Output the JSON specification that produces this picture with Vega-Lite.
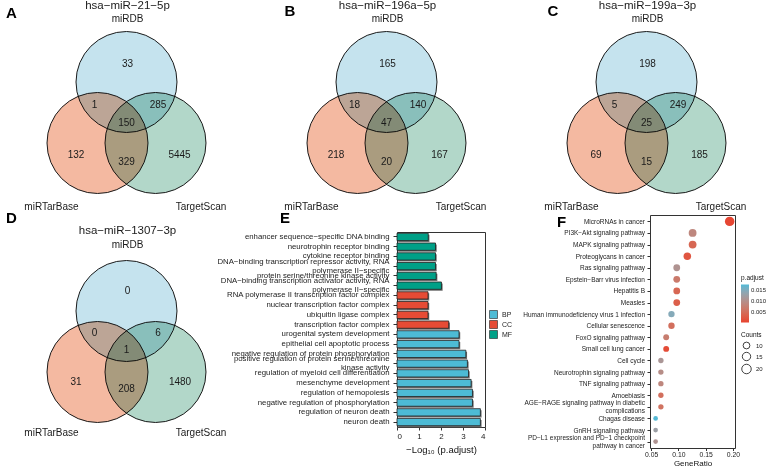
{
  "$schema": "https://vega.github.io/schema/vega-lite/v6.json",
  "padding": 0,
  "background": "white",
  "config": {
    "view": {"stroke": null},
    "font": "Liberation Sans",
    "text": {"font": "Liberation Sans"},
    "title": {"font": "Liberation Sans"},
    "axis": {"labelFont": "Liberation Sans", "titleFont": "Liberation Sans"},
    "legend": {"labelFont": "Liberation Sans", "titleFont": "Liberation Sans"}
  },
  "datasets": {
    "circles": [
      {"set": "miRDB", "x": 126.5, "y": 82},
      {"set": "miRTarBase", "x": 97.5, "y": 143},
      {"set": "TargetScan", "x": 155.5, "y": 143}
    ],
    "vlabels": [
      {"panel": "A", "kind": "label", "text": "33", "x": 127.5, "y": 63.5},
      {"panel": "A", "kind": "label", "text": "1", "x": 94.5, "y": 105},
      {"panel": "A", "kind": "label", "text": "285", "x": 158, "y": 105},
      {"panel": "A", "kind": "label", "text": "150", "x": 126.5, "y": 122.5},
      {"panel": "A", "kind": "label", "text": "132", "x": 76, "y": 155},
      {"panel": "A", "kind": "label", "text": "329", "x": 126.5, "y": 161.5},
      {"panel": "A", "kind": "label", "text": "5445", "x": 179.5, "y": 155},
      {"panel": "A", "kind": "label", "text": "miRDB", "x": 127.5, "y": 18.5},
      {"panel": "A", "kind": "label", "text": "miRTarBase", "x": 51.5, "y": 206.5},
      {"panel": "A", "kind": "label", "text": "TargetScan", "x": 201, "y": 206.5},
      {"panel": "A", "kind": "title", "text": "hsa−miR−21−5p", "x": 127.5, "y": 6},
      {"panel": "A", "kind": "letter", "text": "A", "x": 11.5, "y": 13},
      {"panel": "B", "kind": "label", "text": "165", "x": 127.5, "y": 63.5},
      {"panel": "B", "kind": "label", "text": "18", "x": 94.5, "y": 105},
      {"panel": "B", "kind": "label", "text": "140", "x": 158, "y": 105},
      {"panel": "B", "kind": "label", "text": "47", "x": 126.5, "y": 122.5},
      {"panel": "B", "kind": "label", "text": "218", "x": 76, "y": 155},
      {"panel": "B", "kind": "label", "text": "20", "x": 126.5, "y": 161.5},
      {"panel": "B", "kind": "label", "text": "167", "x": 179.5, "y": 155},
      {"panel": "B", "kind": "label", "text": "miRDB", "x": 127.5, "y": 18.5},
      {"panel": "B", "kind": "label", "text": "miRTarBase", "x": 51.5, "y": 206.5},
      {"panel": "B", "kind": "label", "text": "TargetScan", "x": 201, "y": 206.5},
      {"panel": "B", "kind": "title", "text": "hsa−miR−196a−5p", "x": 127.5, "y": 6},
      {"panel": "B", "kind": "letter", "text": "B", "x": 30, "y": 11},
      {"panel": "C", "kind": "label", "text": "198", "x": 127.5, "y": 63.5},
      {"panel": "C", "kind": "label", "text": "5", "x": 94.5, "y": 105},
      {"panel": "C", "kind": "label", "text": "249", "x": 158, "y": 105},
      {"panel": "C", "kind": "label", "text": "25", "x": 126.5, "y": 122.5},
      {"panel": "C", "kind": "label", "text": "69", "x": 76, "y": 155},
      {"panel": "C", "kind": "label", "text": "15", "x": 126.5, "y": 161.5},
      {"panel": "C", "kind": "label", "text": "185", "x": 179.5, "y": 155},
      {"panel": "C", "kind": "label", "text": "miRDB", "x": 127.5, "y": 18.5},
      {"panel": "C", "kind": "label", "text": "miRTarBase", "x": 51.5, "y": 206.5},
      {"panel": "C", "kind": "label", "text": "TargetScan", "x": 201, "y": 206.5},
      {"panel": "C", "kind": "title", "text": "hsa−miR−199a−3p", "x": 127.5, "y": 6},
      {"panel": "C", "kind": "letter", "text": "C", "x": 33, "y": 11},
      {"panel": "D", "kind": "label", "text": "0", "x": 127.5, "y": 62},
      {"panel": "D", "kind": "label", "text": "0", "x": 94.5, "y": 103.5},
      {"panel": "D", "kind": "label", "text": "6", "x": 158, "y": 103.5},
      {"panel": "D", "kind": "label", "text": "1", "x": 126.5, "y": 120.5},
      {"panel": "D", "kind": "label", "text": "31", "x": 76, "y": 153},
      {"panel": "D", "kind": "label", "text": "208", "x": 126.5, "y": 159.5},
      {"panel": "D", "kind": "label", "text": "1480", "x": 180, "y": 153},
      {"panel": "D", "kind": "label", "text": "miRDB", "x": 127.5, "y": 16},
      {"panel": "D", "kind": "label", "text": "miRTarBase", "x": 51.5, "y": 204},
      {"panel": "D", "kind": "label", "text": "TargetScan", "x": 201, "y": 204},
      {"panel": "D", "kind": "title", "text": "hsa−miR−1307−3p", "x": 127.5, "y": 2},
      {"panel": "D", "kind": "letter", "text": "D", "x": 11.5, "y": -11}
    ],
    "go": [
      {"term": "enhancer sequence−specific DNA binding", "ont": "MF", "value": 1.42},
      {"term": "neurotrophin receptor binding", "ont": "MF", "value": 1.75},
      {"term": "cytokine receptor binding", "ont": "MF", "value": 1.75},
      {"term": "DNA−binding transcription repressor activity, RNA\npolymerase II−specific", "ont": "MF", "value": 1.75},
      {"term": "protein serine/threonine kinase activity", "ont": "MF", "value": 1.78},
      {"term": "DNA−binding transcription activator activity, RNA\npolymerase II−specific", "ont": "MF", "value": 2.02},
      {"term": "RNA polymerase II transcription factor complex", "ont": "CC", "value": 1.41},
      {"term": "nuclear transcription factor complex", "ont": "CC", "value": 1.41},
      {"term": "ubiquitin ligase complex", "ont": "CC", "value": 1.41},
      {"term": "transcription factor complex", "ont": "CC", "value": 2.35},
      {"term": "urogenital system development", "ont": "BP", "value": 2.82},
      {"term": "epithelial cell apoptotic process", "ont": "BP", "value": 2.82},
      {"term": "negative regulation of protein phosphorylation", "ont": "BP", "value": 3.13},
      {"term": "positive regulation of protein serine/threonine\nkinase activity", "ont": "BP", "value": 3.2},
      {"term": "regulation of myeloid cell differentiation", "ont": "BP", "value": 3.25},
      {"term": "mesenchyme development", "ont": "BP", "value": 3.37},
      {"term": "regulation of hemopoiesis", "ont": "BP", "value": 3.43},
      {"term": "negative regulation of phosphorylation", "ont": "BP", "value": 3.43},
      {"term": "regulation of neuron death", "ont": "BP", "value": 3.79},
      {"term": "neuron death", "ont": "BP", "value": 3.79}
    ],
    "kegg": [
      {"Description": "MicroRNAs in cancer", "GeneRatio": 0.1942, "Count": 20, "padj": 0.0005},
      {"Description": "PI3K−Akt signaling pathway", "GeneRatio": 0.1262, "Count": 13, "padj": 0.0085},
      {"Description": "MAPK signaling pathway", "GeneRatio": 0.1262, "Count": 13, "padj": 0.004},
      {"Description": "Proteoglycans in cancer", "GeneRatio": 0.1165, "Count": 12, "padj": 0.002},
      {"Description": "Ras signaling pathway", "GeneRatio": 0.0971, "Count": 10, "padj": 0.0105},
      {"Description": "Epstein−Barr virus infection", "GeneRatio": 0.0971, "Count": 10, "padj": 0.0065},
      {"Description": "Hepatitis B", "GeneRatio": 0.0971, "Count": 10, "padj": 0.004},
      {"Description": "Measles", "GeneRatio": 0.0971, "Count": 10, "padj": 0.003},
      {"Description": "Human immunodeficiency virus 1 infection", "GeneRatio": 0.0874, "Count": 9, "padj": 0.0145},
      {"Description": "Cellular senescence", "GeneRatio": 0.0874, "Count": 9, "padj": 0.005},
      {"Description": "FoxO signaling pathway", "GeneRatio": 0.0777, "Count": 8, "padj": 0.007},
      {"Description": "Small cell lung cancer", "GeneRatio": 0.0777, "Count": 8, "padj": 0.001},
      {"Description": "Cell cycle", "GeneRatio": 0.068, "Count": 7, "padj": 0.011},
      {"Description": "Neurotrophin signaling pathway", "GeneRatio": 0.068, "Count": 7, "padj": 0.0095},
      {"Description": "TNF signaling pathway", "GeneRatio": 0.068, "Count": 7, "padj": 0.0085},
      {"Description": "Amoebiasis", "GeneRatio": 0.068, "Count": 7, "padj": 0.005},
      {"Description": "AGE−RAGE signaling pathway in diabetic\ncomplications", "GeneRatio": 0.068, "Count": 7, "padj": 0.0055},
      {"Description": "Chagas disease", "GeneRatio": 0.0583, "Count": 6, "padj": 0.0172},
      {"Description": "GnRH signaling pathway", "GeneRatio": 0.0583, "Count": 6, "padj": 0.0125},
      {"Description": "PD−L1 expression and PD−1 checkpoint\npathway in cancer", "GeneRatio": 0.0583, "Count": 6, "padj": 0.0105}
    ]
  },
  "columns": 6,
  "align": "each",
  "bounds": "flush",
  "spacing": 0,
  "resolve": {
    "scale": {"x": "independent", "y": "independent", "color": "independent", "size": "independent"},
    "legend": {"color": "independent", "size": "independent"}
  },
  "concat": [
    {
      "width": 260, "height": 215,
      "layer": [
        {"data": {"name": "circles"},
         "mark": {"type": "point", "shape": "circle", "filled": true, "size": 10200, "opacity": 1, "stroke": "#1a1a1a", "strokeWidth": 1, "blend": "multiply"},
         "encoding": {
           "x": {"field": "x", "type": "quantitative", "scale": {"domain": [0, 260], "nice": false, "zero": false}, "axis": null},
           "y": {"field": "y", "type": "quantitative", "scale": {"domain": [215, 0], "nice": false, "zero": false}, "axis": null},
           "color": {"field": "set", "type": "nominal", "scale": {"domain": ["miRDB", "miRTarBase", "TargetScan"], "range": ["#C5E3EE", "#F4B9A1", "#B2D7C9"]}, "legend": null}
         }},
        {"data": {"name": "vlabels"}, "transform": [{"filter": "datum.panel == 'A' && datum.kind == 'label'"}],
         "mark": {"type": "text", "fontSize": 10, "color": "#1a1a1a"},
         "encoding": {
           "x": {"field": "x", "type": "quantitative", "scale": {"domain": [0, 260], "nice": false, "zero": false}, "axis": null},
           "y": {"field": "y", "type": "quantitative", "scale": {"domain": [215, 0], "nice": false, "zero": false}, "axis": null},
           "text": {"field": "text", "type": "nominal"}
         }},
        {"data": {"name": "vlabels"}, "transform": [{"filter": "datum.panel == 'A' && datum.kind == 'title'"}],
         "mark": {"type": "text", "fontSize": 11.5, "color": "#1a1a1a"},
         "encoding": {
           "x": {"field": "x", "type": "quantitative", "scale": {"domain": [0, 260], "nice": false, "zero": false}, "axis": null},
           "y": {"field": "y", "type": "quantitative", "scale": {"domain": [215, 0], "nice": false, "zero": false}, "axis": null},
           "text": {"field": "text", "type": "nominal"}
         }},
        {"data": {"name": "vlabels"}, "transform": [{"filter": "datum.panel == 'A' && datum.kind == 'letter'"}],
         "mark": {"type": "text", "fontSize": 15, "fontWeight": "bold", "color": "#000"},
         "encoding": {
           "x": {"field": "x", "type": "quantitative", "scale": {"domain": [0, 260], "nice": false, "zero": false}, "axis": null},
           "y": {"field": "y", "type": "quantitative", "scale": {"domain": [215, 0], "nice": false, "zero": false}, "axis": null},
           "text": {"field": "text", "type": "nominal"}
         }}
      ]
    },
    {
      "width": 137, "height": 215,
      "layer": [
        {"data": {"name": "circles"},
         "mark": {"type": "point", "shape": "circle", "filled": true, "size": 10200, "opacity": 1, "stroke": "#1a1a1a", "strokeWidth": 1, "blend": "multiply"},
         "encoding": {
           "x": {"field": "x", "type": "quantitative", "scale": {"domain": [0, 137], "nice": false, "zero": false}, "axis": null},
           "y": {"field": "y", "type": "quantitative", "scale": {"domain": [215, 0], "nice": false, "zero": false}, "axis": null},
           "color": {"field": "set", "type": "nominal", "scale": {"domain": ["miRDB", "miRTarBase", "TargetScan"], "range": ["#C5E3EE", "#F4B9A1", "#B2D7C9"]}, "legend": null}
         }},
        {"data": {"name": "vlabels"}, "transform": [{"filter": "datum.panel == 'B' && datum.kind == 'label'"}],
         "mark": {"type": "text", "fontSize": 10, "color": "#1a1a1a"},
         "encoding": {
           "x": {"field": "x", "type": "quantitative", "scale": {"domain": [0, 137], "nice": false, "zero": false}, "axis": null},
           "y": {"field": "y", "type": "quantitative", "scale": {"domain": [215, 0], "nice": false, "zero": false}, "axis": null},
           "text": {"field": "text", "type": "nominal"}
         }},
        {"data": {"name": "vlabels"}, "transform": [{"filter": "datum.panel == 'B' && datum.kind == 'title'"}],
         "mark": {"type": "text", "fontSize": 11.5, "color": "#1a1a1a"},
         "encoding": {
           "x": {"field": "x", "type": "quantitative", "scale": {"domain": [0, 137], "nice": false, "zero": false}, "axis": null},
           "y": {"field": "y", "type": "quantitative", "scale": {"domain": [215, 0], "nice": false, "zero": false}, "axis": null},
           "text": {"field": "text", "type": "nominal"}
         }},
        {"data": {"name": "vlabels"}, "transform": [{"filter": "datum.panel == 'B' && datum.kind == 'letter'"}],
         "mark": {"type": "text", "fontSize": 15, "fontWeight": "bold", "color": "#000"},
         "encoding": {
           "x": {"field": "x", "type": "quantitative", "scale": {"domain": [0, 137], "nice": false, "zero": false}, "axis": null},
           "y": {"field": "y", "type": "quantitative", "scale": {"domain": [215, 0], "nice": false, "zero": false}, "axis": null},
           "text": {"field": "text", "type": "nominal"}
         }}
      ]
    },
    {"width": 88, "height": 1, "data": {"values": []}, "mark": "point"},
    {"width": 35, "height": 1, "data": {"values": []}, "mark": "point"},
    {
      "width": 130, "height": 215,
      "layer": [
        {"data": {"name": "circles"},
         "mark": {"type": "point", "shape": "circle", "filled": true, "size": 10200, "opacity": 1, "stroke": "#1a1a1a", "strokeWidth": 1, "blend": "multiply"},
         "encoding": {
           "x": {"field": "x", "type": "quantitative", "scale": {"domain": [0, 130], "nice": false, "zero": false}, "axis": null},
           "y": {"field": "y", "type": "quantitative", "scale": {"domain": [215, 0], "nice": false, "zero": false}, "axis": null},
           "color": {"field": "set", "type": "nominal", "scale": {"domain": ["miRDB", "miRTarBase", "TargetScan"], "range": ["#C5E3EE", "#F4B9A1", "#B2D7C9"]}, "legend": null}
         }},
        {"data": {"name": "vlabels"}, "transform": [{"filter": "datum.panel == 'C' && datum.kind == 'label'"}],
         "mark": {"type": "text", "fontSize": 10, "color": "#1a1a1a"},
         "encoding": {
           "x": {"field": "x", "type": "quantitative", "scale": {"domain": [0, 130], "nice": false, "zero": false}, "axis": null},
           "y": {"field": "y", "type": "quantitative", "scale": {"domain": [215, 0], "nice": false, "zero": false}, "axis": null},
           "text": {"field": "text", "type": "nominal"}
         }},
        {"data": {"name": "vlabels"}, "transform": [{"filter": "datum.panel == 'C' && datum.kind == 'title'"}],
         "mark": {"type": "text", "fontSize": 11.5, "color": "#1a1a1a"},
         "encoding": {
           "x": {"field": "x", "type": "quantitative", "scale": {"domain": [0, 130], "nice": false, "zero": false}, "axis": null},
           "y": {"field": "y", "type": "quantitative", "scale": {"domain": [215, 0], "nice": false, "zero": false}, "axis": null},
           "text": {"field": "text", "type": "nominal"}
         }},
        {"data": {"name": "vlabels"}, "transform": [{"filter": "datum.panel == 'C' && datum.kind == 'letter'"}],
         "mark": {"type": "text", "fontSize": 15, "fontWeight": "bold", "color": "#000"},
         "encoding": {
           "x": {"field": "x", "type": "quantitative", "scale": {"domain": [0, 130], "nice": false, "zero": false}, "axis": null},
           "y": {"field": "y", "type": "quantitative", "scale": {"domain": [215, 0], "nice": false, "zero": false}, "axis": null},
           "text": {"field": "text", "type": "nominal"}
         }}
      ]
    },
    {"width": 85, "height": 1, "data": {"values": []}, "mark": "point"},
    {
      "width": 260, "height": 233,
      "layer": [
        {"data": {"name": "circles"},
         "mark": {"type": "point", "shape": "circle", "filled": true, "size": 10200, "opacity": 1, "stroke": "#1a1a1a", "strokeWidth": 1, "blend": "multiply"},
         "encoding": {
           "x": {"field": "x", "type": "quantitative", "scale": {"domain": [0, 260], "nice": false, "zero": false}, "axis": null},
           "y": {"field": "y", "type": "quantitative", "scale": {"domain": [219, -14], "nice": false, "zero": false}, "axis": null},
           "color": {"field": "set", "type": "nominal", "scale": {"domain": ["miRDB", "miRTarBase", "TargetScan"], "range": ["#C5E3EE", "#F4B9A1", "#B2D7C9"]}, "legend": null}
         }},
        {"data": {"name": "vlabels"}, "transform": [{"filter": "datum.panel == 'D' && datum.kind == 'label'"}],
         "mark": {"type": "text", "fontSize": 10, "color": "#1a1a1a"},
         "encoding": {
           "x": {"field": "x", "type": "quantitative", "scale": {"domain": [0, 260], "nice": false, "zero": false}, "axis": null},
           "y": {"field": "y", "type": "quantitative", "scale": {"domain": [219, -14], "nice": false, "zero": false}, "axis": null},
           "text": {"field": "text", "type": "nominal"}
         }},
        {"data": {"name": "vlabels"}, "transform": [{"filter": "datum.panel == 'D' && datum.kind == 'title'"}],
         "mark": {"type": "text", "fontSize": 11.5, "color": "#1a1a1a"},
         "encoding": {
           "x": {"field": "x", "type": "quantitative", "scale": {"domain": [0, 260], "nice": false, "zero": false}, "axis": null},
           "y": {"field": "y", "type": "quantitative", "scale": {"domain": [219, -14], "nice": false, "zero": false}, "axis": null},
           "text": {"field": "text", "type": "nominal"}
         }},
        {"data": {"name": "vlabels"}, "transform": [{"filter": "datum.panel == 'D' && datum.kind == 'letter'"}],
         "mark": {"type": "text", "fontSize": 15, "fontWeight": "bold", "color": "#000"},
         "encoding": {
           "x": {"field": "x", "type": "quantitative", "scale": {"domain": [0, 260], "nice": false, "zero": false}, "axis": null},
           "y": {"field": "y", "type": "quantitative", "scale": {"domain": [219, -14], "nice": false, "zero": false}, "axis": null},
           "text": {"field": "text", "type": "nominal"}
         }}
      ]
    },
    {"width": 137, "height": 1, "data": {"values": []}, "mark": "point"},
    {
      "width": 88, "height": 212,
      "title": {"text": "E", "anchor": "start", "frame": "group", "fontSize": 15, "fontWeight": "bold", "color": "#000", "baseline": "alphabetic", "offset": 0, "dy": 23, "dx": -117},
      "data": {"name": "go"},
      "resolve": {"axis": {"x": "independent", "y": "independent"}},
      "layer": [
        {
          "mark": {"type": "bar", "color": "#6e6e6e", "xOffset": 1.2, "yOffset": 1.5},
          "encoding": {
            "y": {"field": "term", "type": "nominal", "sort": null,
                  "scale": {"range": [17, 212], "paddingInner": 0.25, "paddingOuter": 0.13},
                  "axis": {"title": null, "labelExpr": "split(datum.label, '\\n')", "labelFontSize": 7.8, "labelColor": "#222", "labelLimit": 0, "labelOverlap": false, "labelLineHeight": 9,
                           "labelOffset": {"condition": {"test": "indexof(datum.label, '\\n') >= 0", "value": -4.5}, "value": 0},
                           "tickSize": 4, "tickColor": "#333", "domain": true, "domainColor": "#333", "domainWidth": 1, "labelPadding": 4}},
            "x": {"field": "value", "type": "quantitative", "scale": {"domain": [0, 4], "nice": false},
                  "axis": {"values": [0, 1, 2, 3, 4], "title": "−Log₁₀ (p.adjust)", "titleFontSize": 9.5, "titleFontWeight": "normal", "titleColor": "#111", "labelFontSize": 8, "labelColor": "#222", "tickSize": 3, "tickColor": "#333", "domain": true, "domainColor": "#333", "domainWidth": 1, "grid": false, "titlePadding": 4, "labelPadding": 2}}
          }
        },
        {
          "mark": {"type": "bar", "stroke": "#222", "strokeWidth": 0.8},
          "encoding": {
            "y": {"field": "term", "type": "nominal", "sort": null, "axis": null},
            "x": {"field": "value", "type": "quantitative", "axis": null},
            "color": {"field": "ont", "type": "nominal",
                      "scale": {"domain": ["BP", "CC", "MF"], "range": ["#4DBBD5", "#E64B35", "#00A087"]},
                      "legend": {"title": null, "orient": "none", "legendX": 92, "legendY": 95, "symbolType": "square", "symbolSize": 64, "symbolStrokeColor": "#222", "symbolStrokeWidth": 0.6, "symbolOpacity": 1, "labelFontSize": 7, "labelColor": "#222", "rowPadding": -1.5, "padding": 0}}
          }
        },
        {
          "mark": {"type": "bar", "opacity": 0},
          "encoding": {
            "y": {"field": "term", "type": "nominal", "sort": null,
                  "axis": {"orient": "right", "title": null, "labels": false, "ticks": false, "domain": true, "domainColor": "#333", "domainWidth": 1, "grid": false}},
            "x": {"field": "value", "type": "quantitative",
                  "axis": {"orient": "top", "title": null, "labels": false, "ticks": false, "domain": true, "domainColor": "#333", "domainWidth": 1, "grid": false, "offset": -17}}
          }
        }
      ]
    },
    {"width": 35, "height": 1, "data": {"values": []}, "mark": "point"},
    {"width": 130, "height": 1, "data": {"values": []}, "mark": "point"},
    {
      "width": 85, "height": 233,
      "view": {"stroke": "#333", "strokeWidth": 1},
      "title": {"text": "F", "anchor": "start", "frame": "group", "fontSize": 15, "fontWeight": "bold", "color": "#000", "baseline": "alphabetic", "offset": 0, "dy": 27, "dx": -93},
      "data": {"name": "kegg"},
      "mark": {"type": "circle", "opacity": 1},
      "encoding": {
        "y": {"field": "Description", "type": "nominal", "sort": null,
              "scale": {"type": "point", "padding": 0.55},
              "axis": {"title": null, "labelExpr": "split(datum.label, '\\n')", "labelFontSize": 6.5, "labelColor": "#222", "labelLimit": 0, "labelOverlap": false, "labelLineHeight": 8,
                       "labelOffset": {"condition": {"test": "indexof(datum.label, '\\n') >= 0", "value": -4}, "value": 0},
                       "tickSize": 3, "tickColor": "#333", "domain": false, "grid": false, "labelPadding": 2.5}},
        "x": {"field": "GeneRatio", "type": "quantitative", "scale": {"domain": [0.048, 0.204], "nice": false, "zero": false},
              "axis": {"values": [0.05, 0.1, 0.15, 0.2], "format": ".2f", "title": "GeneRatio", "titleFontSize": 8, "titleFontWeight": "normal", "titleColor": "#111", "labelFontSize": 6.8, "labelColor": "#222", "tickSize": 2.5, "tickColor": "#333", "domain": false, "grid": false, "titlePadding": 1.5, "labelPadding": 1}},
        "color": {"field": "padj", "type": "quantitative",
                  "scale": {"domain": [0.0001, 0.0174], "range": ["#E8412F", "#4EB9D6"], "interpolate": "lab"},
                  "legend": {"title": "p.adjust", "orient": "none", "legendX": 91, "legendY": 60, "direction": "vertical", "gradientLength": 38, "gradientThickness": 8, "gradientStrokeWidth": 0, "values": [0.005, 0.01, 0.015], "format": ".3f", "labelFontSize": 6, "labelColor": "#222", "titleFontSize": 6.5, "titleFontWeight": "normal", "titleColor": "#111", "titlePadding": 3, "padding": 0}},
        "size": {"field": "Count", "type": "quantitative",
                 "scale": {"type": "sqrt", "domain": [6, 20], "range": [22, 90], "zero": false},
                 "legend": {"title": "Counts", "orient": "none", "legendX": 91, "legendY": 117, "values": [10, 15, 20], "symbolType": "circle", "symbolFillColor": "white", "symbolStrokeColor": "#111", "symbolStrokeWidth": 0.8, "symbolOpacity": 1, "labelFontSize": 6, "labelColor": "#222", "titleFontSize": 6.5, "titleFontWeight": "normal", "titleColor": "#111", "titlePadding": 3, "rowPadding": 0, "padding": 0}}
      }
    }
  ]
}
